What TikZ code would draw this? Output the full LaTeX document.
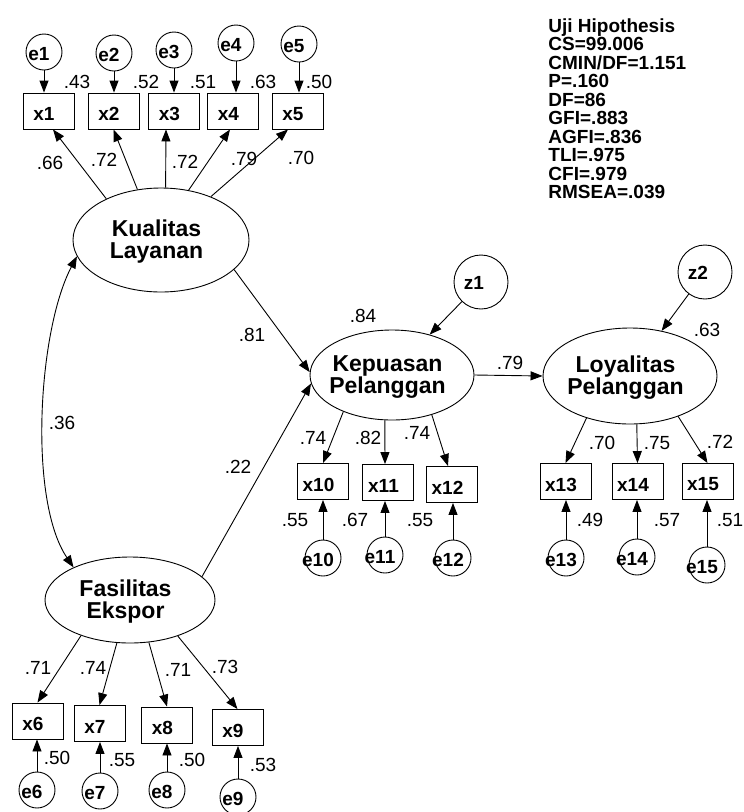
\documentclass[tikz,border=0pt]{standalone}
\usepackage{fontspec}
\setmainfont{Liberation Sans}
\usetikzlibrary{shapes.geometric,arrows.meta,calc}
\begin{document}
\begin{tikzpicture}[x=1pt,y=-1pt,
  line width=0.9pt,
  obs/.style={draw,rectangle,minimum width=51pt,minimum height=36pt,inner sep=0pt,label={[xshift=-4.5pt,yshift=-3pt,font=\bfseries\fontsize{19}{19}\selectfont]center:#1}},
  err/.style={draw,circle,minimum size=36pt,inner sep=0pt,label={[xshift=-5pt,yshift=-2pt,font=\bfseries\fontsize{19}{19}\selectfont]center:#1}},
  dist/.style={draw,circle,minimum size=54pt,inner sep=0pt,label={[xshift=-7pt,yshift=-1pt,font=\bfseries\fontsize{19}{19}\selectfont]center:#1}},
  lat/.style={draw,ellipse,inner sep=0pt,label={[xshift=-4.5pt,yshift=-2pt,align=center,font=\bfseries\fontsize{23}{22}\selectfont]center:#1}},
  num/.style={inner sep=0pt,font=\fontsize{19}{19}\selectfont},
  arr/.style={-{Triangle[length=12pt,width=9pt]}},
  darr/.style={{Triangle[length=12pt,width=9pt]}-{Triangle[length=12pt,width=9pt]}}
]
\useasboundingbox (0,0) rectangle (744,812);

% latent variables
\node[lat={Kualitas\\Layanan},minimum width=176pt,minimum height=104pt] (kl) at (161,240) {};
\node[lat={Fasilitas\\Ekspor},minimum width=170pt,minimum height=86pt] (fa) at (130,600) {};
\node[lat={Kepuasan\\Pelanggan},minimum width=164pt,minimum height=90pt] (kp) at (392,375) {};
\node[lat={Loyalitas\\Pelanggan},minimum width=174pt,minimum height=96pt] (ly) at (630,376) {};

% observed
\node[obs=x1] (x1) at (48.5,111) {};
\node[obs=x2] (x2) at (113.5,111) {};
\node[obs=x3] (x3) at (174,111) {};
\node[obs=x4] (x4) at (233,111) {};
\node[obs=x5] (x5) at (297.5,111) {};
\node[obs=x6] (x6) at (37.5,721) {};
\node[obs=x7] (x7) at (99.5,723.5) {};
\node[obs=x8] (x8) at (167,725) {};
\node[obs=x9] (x9) at (237.5,727.5) {};
\node[obs=x10] (x10) at (323,481.5) {};
\node[obs=x11] (x11) at (388,482.5) {};
\node[obs=x12] (x12) at (452,484.5) {};
\node[obs=x13] (x13) at (565.5,481.5) {};
\node[obs=x14] (x14) at (637.5,481.5) {};
\node[obs=x15] (x15) at (707.5,481.5) {};

% errors
\node[err=e1] (e1) at (44,52) {};
\node[err=e2] (e2) at (114,53) {};
\node[err=e3] (e3) at (174,50) {};
\node[err=e4] (e4) at (236,43) {};
\node[err=e5] (e5) at (299,44) {};
\node[err=e6] (e6) at (37,790) {};
\node[err=e7] (e7) at (100,791) {};
\node[err=e8] (e8) at (167,790) {};
\node[err=e9] (e9) at (238,797) {};
\node[err=e10] (e10) at (323,558) {};
\node[err=e11] (e11) at (385,555) {};
\node[err=e12] (e12) at (453,558) {};
\node[err=e13] (e13) at (566,558) {};
\node[err=e14] (e14) at (637,557) {};
\node[err=e15] (e15) at (707,565) {};
\node[dist=z1] (z1) at (481,282) {};
\node[dist=z2] (z2) at (705,272) {};

% error arrows
\foreach \e/\x in {e1/x1,e2/x2,e3/x3,e4/x4,e5/x5}{
  \draw[arr] (\e.south) -- (\e.south |- \x.north);
}
\foreach \e/\x in {e6/x6,e7/x7,e8/x8,e9/x9,e10/x10,e11/x11,e12/x12,e13/x13,e14/x14,e15/x15}{
  \draw[arr] (\e.north) -- (\e.north |- \x.south);
}
\draw[arr] (z1) -- (kp.47);
\draw[arr] (z2) -- (ly.55);

% loadings
\draw[arr] (kl.143) -- ($(x1.south)+(4.5,0)$);
\draw[arr] (kl.115) -- (x2.south);
\draw[arr] (kl.85) -- ($(x3.south)+(-8,0)$);
\draw[arr] (kl.61) -- ($(x4.south)+(-3,0)$);
\draw[arr] (kl.41) -- ($(x5.south)+(-9.5,0)$);
\draw[arr] (fa.216) -- (x6.north);
\draw[arr] (fa.253) -- (x7.north);
\draw[arr] (fa.294) -- (x8.north);
\draw[arr] (fa.323) -- (x9.north);
\draw[arr] (kp.217) -- (x10.north);
\draw[arr] (kp.261) -- ($(x11.north)+(-3,0)$);
\draw[arr] (kp.315) -- ($(x12.north)+(-4,0)$);
\draw[arr] (ly.224) -- (x13.north);
\draw[arr] (ly.278) -- (x14.north);
\draw[arr] (ly.320) -- (x15.north);

% structural
\draw[arr] (kl.338) -- (kp.178);
\draw[arr] (fa.18) -- (kp.186);
\draw[arr] (kp.east) -- (ly.west);
\draw[darr] (kl.191) .. controls (38,330) and (28,500) .. (fa.150);

% numbers
\node[num] (n1) at (77,82) {.43};
\node[num] (n2) at (146,82) {.52};
\node[num] (n3) at (203,82) {.51};
\node[num] (n4) at (263,82) {.63};
\node[num] (n5) at (319,82) {.50};
\node[num] (l1) at (50,163) {.66};
\node[num] (l2) at (104,160) {.72};
\node[num] (l3) at (185,162) {.72};
\node[num] (l4) at (244,159) {.79};
\node[num] (l5) at (301,158) {.70};
\node[num] (s1) at (252,335) {.81};
\node[num] (s2) at (238,467) {.22};
\node[num] (s3) at (62,423) {.36};
\node[num] (s4) at (363,316) {.84};
\node[num] (s5) at (707,330) {.63};
\node[num] (s6) at (510,363) {.79};
\node[num] (k1) at (313,438) {.74};
\node[num] (k2) at (368,438) {.82};
\node[num] (k3) at (417,433) {.74};
\node[num] (k4) at (295,520) {.55};
\node[num] (k5) at (355,520) {.67};
\node[num] (k6) at (420,520) {.55};
\node[num] (y1) at (602,443) {.70};
\node[num] (y2) at (657,443) {.75};
\node[num] (y3) at (720,442) {.72};
\node[num] (y4) at (590,520) {.49};
\node[num] (y5) at (667,520) {.57};
\node[num] (y6) at (730,520) {.51};
\node[num] (f1) at (38,668) {.71};
\node[num] (f2) at (93,668) {.74};
\node[num] (f3) at (178,670) {.71};
\node[num] (f4) at (225,667) {.73};
\node[num] (f5) at (57,758) {.50};
\node[num] (f6) at (122,760) {.55};
\node[num] (f7) at (192,760) {.50};
\node[num] (f8) at (263,765) {.53};

% fit
\node[anchor=north west,inner sep=0pt,align=left,font=\bfseries\fontsize{19}{18.5}\selectfont] (fit) at (548,18)
{Uji Hipothesis\\CS=99.006\\CMIN/DF=1.151\\P=.160\\DF=86\\GFI=.883\\AGFI=.836\\TLI=.975\\CFI=.979\\RMSEA=.039};
\end{tikzpicture}
\end{document}
